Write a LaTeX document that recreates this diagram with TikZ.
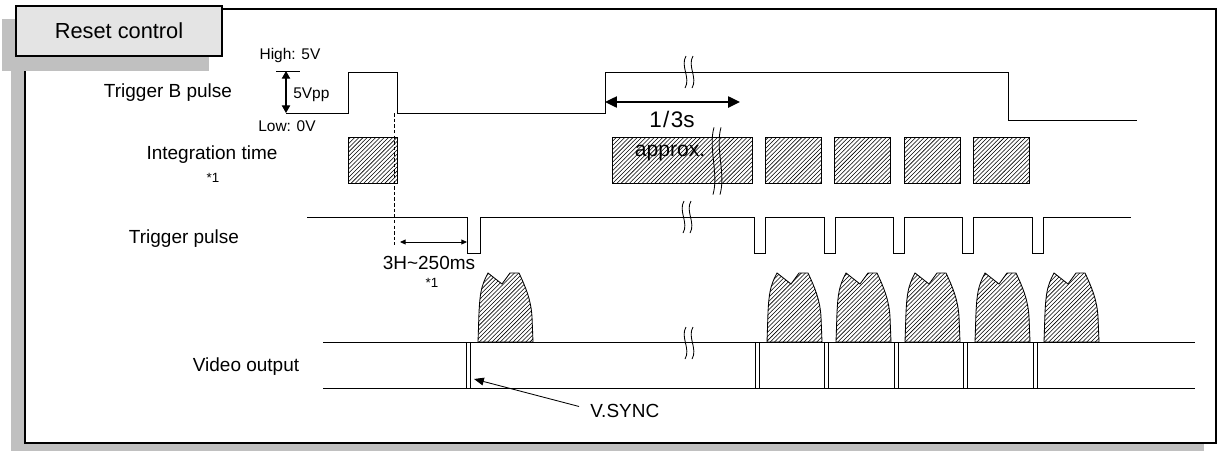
\documentclass[tikz,border=0pt]{standalone}
\usepackage{fontspec}
\setmainfont{Liberation Sans}
\usepackage{xcolor}
\usetikzlibrary{arrows.meta, patterns}

\definecolor{shadowgray}{RGB}{192,192,192}
\definecolor{boxgray}{RGB}{228,228,228}

\begin{document}
\begin{tikzpicture}[
  x=0.025cm, y=-0.025cm,
  sig/.style={line width=0.7pt},
  hatch/.style={draw, line width=0.6pt, pattern=north east lines},
  titlebox/.style={rectangle, draw, line width=0.8pt, fill=boxgray,
                   minimum width=5.15cm, minimum height=1.25cm,
                   font=\fontsize{15.5}{17}\selectfont},
  lbl/.style={font=\fontsize{13.5}{16}\selectfont, inner sep=0pt},
  lvl/.style={font=\fontsize{11}{13}\selectfont, inner sep=0pt},
  note/.style={font=\fontsize{9.5}{11}\selectfont, inner sep=0pt},
  big/.style={font=\fontsize{16}{18}\selectfont, inner sep=0pt},
  vpparrow/.style={arrows={Triangle[length=5.5pt,width=6pt]-Triangle[length=5.5pt,width=6pt]}, line width=0.8pt},
  periodarrow/.style={arrows={Triangle[length=8.5pt,width=8pt]-Triangle[length=8.5pt,width=8pt]}, line width=1.1pt},
  delayarrow/.style={arrows={Triangle[length=4pt,width=3.5pt]-Triangle[length=4pt,width=3.5pt]}, line width=0.6pt},
  ptr/.style={arrows={-Triangle[length=7pt,width=5.5pt]}, line width=0.6pt},
  brk/.pic={
    \draw[line width=0.6pt] (0,-16) .. controls (-6,-6) and (5,6) .. (-1,16);
    \draw[line width=0.6pt] (7,-16) .. controls (1,-6) and (12,6) .. (6,16);
  },
  blob/.pic={
    \draw[hatch] (0,0) -- (1,-30) .. controls (2,-48) and (3,-56) .. (10,-69)
      -- (24,-58) -- (32,-69) -- (41,-69) .. controls (48,-54) and (53,-42) .. (54,-25)
      -- (55,0) -- cycle;
  }
]
\useasboundingbox (0,0) rectangle (1220,450);

% frame and title
\fill[shadowgray] (11,20) rectangle (1204,455);
\draw[fill=white, line width=1pt] (25,9) rectangle (1216,443);
\fill[shadowgray] (2,19) rectangle (209,71);
\node[titlebox] (title) at (119,31) {Reset control};

% trigger B pulse
\node[lbl, anchor=base] (trigb) at (168,97) {Trigger B pulse};
\node[lvl, anchor=base] (high) at (290,59) {High: 5V};
\node[lvl, anchor=base] (low) at (287,131) {Low: 0V};
\node[lvl, anchor=base west] (vpp) at (293,98) {5Vpp};
\coordinate (hi) at (286,71);
\coordinate (lo) at (286,113);
\draw[sig] (276,71) -- (300,71);
\draw[vpparrow] (hi) -- (lo);
\draw[sig] (286,113) -- (348,113) -- (348,72) -- (397,72) -- (397,113) -- (605,113)
  -- (605,72) -- (1008,72) -- (1008,120) -- (1137,120);
\pic at (686,72) {brk};
\coordinate (p0) at (605,102);
\coordinate (p1) at (740,102);
\draw[periodarrow] (p0) -- (p1);
\node[big, anchor=base] (period) at (672,127) {1\kern1pt/\kern1pt3s};

% integration time
\node[lbl, anchor=base] (integ) at (212,159) {Integration time};
\node[note, anchor=base] (integnote) at (213,182) {*1};
\draw[hatch] (348,137) rectangle (397,183);
\draw[hatch] (612,137) rectangle (752,183);
\foreach \x in {765,834,904,973}
  \draw[hatch] (\x,137) rectangle ++(56,46);
\node[font=\fontsize{15}{17}\selectfont, inner sep=0pt, anchor=base] (approx) at (670,156) {approx.};
\pic[yscale=2.1] at (714,161) {brk};
\draw[dashed, line width=0.5pt, dash pattern=on 2.5pt off 1.5pt] (394,113) -- (394,245);

% trigger pulse
\node[lbl, anchor=base] (trig) at (184,243) {Trigger pulse};
\draw[sig] (307,217) -- (467,217) -- (467,253) -- (480,253) -- (480,217)
  \foreach \x in {754,824,893,962,1032} { -- (\x,217) -- (\x,253) -- (\x+11,253) -- (\x+11,217) }
  -- (1131,217);
\pic at (684,217) {brk};
\coordinate (d0) at (400,242);
\coordinate (d1) at (467,242);
\draw[delayarrow] (d0) -- (d1);
\node[lbl, anchor=base] (delay) at (429,269) {3H\textasciitilde 250ms};
\node[note, anchor=base] (delaynote) at (432,287) {*1};

% video output
\node[lbl, anchor=base] (video) at (246,371) {Video output};
\draw[sig] (323,342) -- (1195,342);
\draw[sig] (323,388) -- (1195,388);
\pic at (686,343) {brk};
\foreach \x in {466,755,824,894,963,1033} {
  \draw[line width=0.6pt] (\x,342) -- (\x,388);
  \draw[line width=0.6pt] (\x+4.5,342) -- (\x+4.5,388);
}
\foreach \x in {478,767,836,905,975,1044}
  \pic at (\x,342) {blob};
\node[lbl, anchor=base west] (vsync) at (590,417) {V.SYNC};
\coordinate (vs) at (474,379);
\draw[ptr] (vsync.west) ++(-11,-4) -- (vs);
\end{tikzpicture}
\end{document}
